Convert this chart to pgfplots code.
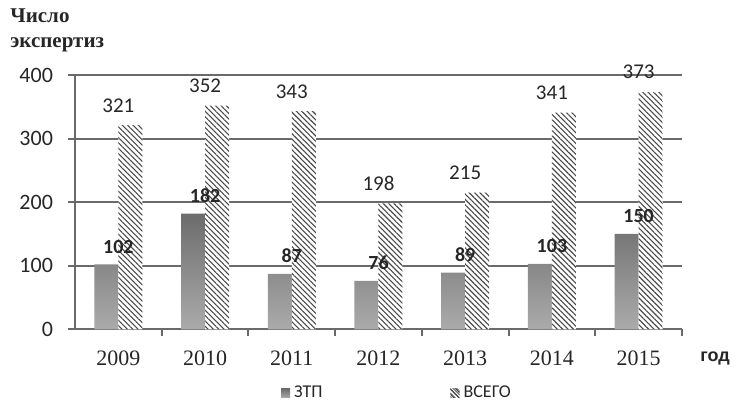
\documentclass[border=0pt]{standalone}
\usepackage{pgfplots}
\pgfplotsset{compat=1.18}
\usetikzlibrary{patterns.meta}
\usepackage{fontspec}
\setmainfont{Liberation Serif}
\newfontfamily\carlito{Carlito}
\newfontfamily\lsans{Liberation Sans}
\definecolor{axgray}{HTML}{6A6A6A}
\definecolor{bartop}{HTML}{6C6C6C}
\definecolor{barbot}{HTML}{ABABAB}
\definecolor{hatch}{HTML}{4A4A4A}
\begin{document}
\begin{tikzpicture}
\path[use as bounding box] (0,0) rectangle (372pt,203pt);
\begin{axis}[
  at={(37.5pt,38.35pt)}, anchor=south west,
  scale only axis, width=303.5pt, height=127.15pt,
  xmin=-0.5, xmax=6.5, ymin=0, ymax=400,
  clip=false,
  axis lines*=left,
  axis line style={axgray, line width=1pt, -},
  xtick={0,1,2,3,4,5,6},
  xticklabels={2009,2010,2011,2012,2013,2014,2015},
  xticklabel style={font=\fontsize{11}{13}\selectfont, text=black!85, yshift=-4pt},
  xtick style={draw=none},
  minor xtick={0.5,1.5,2.5,3.5,4.5,5.5,6.5},
  minor tick length=3.5pt,
  minor x tick style={axgray, line width=1pt, draw=axgray},
  ytick={0,100,200,300,400},
  yticklabel style={font=\carlito\fontsize{11}{13}\selectfont, text=black!85, xshift=-4pt},
  /pgf/number format/assume math mode=true,
  ymajorgrids,
  grid style={axgray, line width=1pt},
  ytick style={axgray, line width=1pt},
  tick align=outside,
  major tick length=3.5pt,
  legend columns=2,
  legend style={at={(0.532,-0.252)}, anchor=center, draw=none, fill=none,
    font=\carlito\fontsize{9}{10}\selectfont, text=black!85,
    /tikz/every even column/.append style={column sep=62pt},
    inner sep=0pt},
  nodes near coords,
]
\addplot[ybar, bar width=12pt, bar shift=-6pt, draw=none, top color=bartop, bottom color=barbot,
  nodes near coords style={font=\carlito\bfseries\fontsize{10}{12}\selectfont, text=black!85, anchor=south, yshift=2pt},
  legend image code/.code={\fill[bartop!70!barbot] (0pt,-2.3pt) rectangle (4.6pt,2.3pt);}]
  coordinates {(0,102) (1,182) (2,87) (3,76) (4,89) (5,103) (6,150)};
\addlegendentry{ЗТП}
\addplot[ybar, bar width=12pt, bar shift=6pt, draw=none, fill=white,
  postaction={pattern={Lines[angle=-45,distance=1.9pt,line width=0.55pt]}, pattern color=hatch},
  nodes near coords style={font=\carlito\fontsize{10.5}{12}\selectfont, text=black!85, anchor=south, yshift=3pt},
  legend image code/.code={\fill[pattern={Lines[angle=-45,distance=1.3pt,line width=0.35pt]}, pattern color=hatch] (0pt,-2.3pt) rectangle (4.6pt,2.3pt);}]
  coordinates {(0,321) (1,352) (2,343) (3,198) (4,215) (5,341) (6,373)};
\addlegendentry{ВСЕГО}
\end{axis}
\node[anchor=base west, font=\bfseries\fontsize{10.5}{12}\selectfont, text=black!85, inner sep=0pt] at (5pt,191.5pt) {Число};
\node[anchor=base west, font=\bfseries\fontsize{10.5}{12}\selectfont, text=black!85, inner sep=0pt] at (5pt,179pt) {экспертиз};
\node[anchor=base west, font=\lsans\bfseries\fontsize{9}{11}\selectfont, text=black!85, inner sep=0pt] at (350pt,22pt) {год};
\end{tikzpicture}
\end{document}
